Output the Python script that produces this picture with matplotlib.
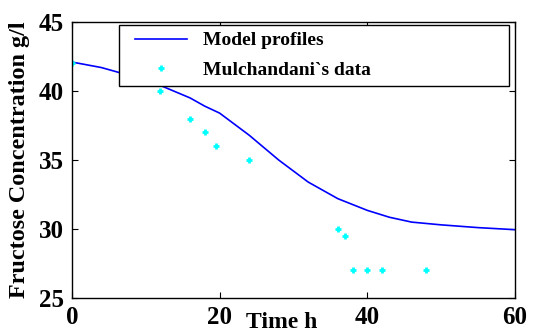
import numpy as np
import matplotlib
matplotlib.use("Agg")
from matplotlib import pyplot as plt
from matplotlib.legend_handler import HandlerLine2D

# modello
t_model = [0, 4, 8, 12, 16, 18, 20, 24, 28, 32, 36, 40, 43, 46, 50, 55, 60]
c_model = [42.1, 41.7, 41.1, 40.4, 39.5, 38.9, 38.4, 36.8, 35.0, 33.4, 32.2, 31.35, 30.85, 30.5, 30.3, 30.1, 29.95]

# dati sperimentali Mulchandani
t_data = [0, 12, 16, 18, 19.5, 24, 36, 37, 38, 40, 42, 48]
c_data = [42, 40, 38, 37, 36, 35, 30, 29.5, 27, 27, 27, 27]

x_ticks = [0, 20, 40, 60]
y_ticks = [25, 30, 35, 40, 45]

plt.rcParams["font.family"] = ["Liberation Serif", "DejaVu Serif"]
plt.rcParams["font.weight"] = "bold"

fig = plt.figure(figsize=(5.36, 3.32), dpi=100)
ax = fig.add_axes([0.134, 0.1024, 0.827, 0.8313])

ax.plot(t_model, c_model, color="blue", lw=1.2, label="Model profiles")
ax.plot(t_data, c_data, ls="none", marker="+", color="cyan", ms=5, mew=2,
        label="Mulchandani`s data")

ax.set_xlim(0, 60)
ax.set_ylim(25, 45)
ax.set_xticks(x_ticks)
ax.set_yticks(y_ticks)
ax.tick_params(direction="in", top=True, right=True, length=4, width=0.8,
               labelsize=18)
ax.tick_params(axis="x", pad=6)
ax.tick_params(axis="y", pad=5.5)
for lab in ax.get_xticklabels() + ax.get_yticklabels():
    lab.set_fontweight("bold")
for s in ax.spines.values():
    s.set_linewidth(1.0)

ax.set_xlabel("Time h", fontsize=17, fontweight="bold")
ax.xaxis.set_label_coords(0.473, -0.052)
ax.set_ylabel("Fructose Concentration g/l", fontsize=17.4, fontweight="bold")
ax.yaxis.set_label_coords(-0.095, 0.5)

hm = {ln: HandlerLine2D(numpoints=1, xpad=0.47) for ln in ax.get_lines()}
leg = ax.legend(loc="upper left", bbox_to_anchor=(0.106, 0.989, 0.880, 0.0),
                mode="expand", fancybox=False, framealpha=1, edgecolor="black",
                prop={"size": 14, "weight": "bold"}, handlelength=3.14,
                handletextpad=0.82, borderaxespad=0, labelspacing=0.61,
                borderpad=0.35, handler_map=hm)
leg.get_frame().set_linewidth(1.0)

fig.savefig("out.png", dpi=100)
